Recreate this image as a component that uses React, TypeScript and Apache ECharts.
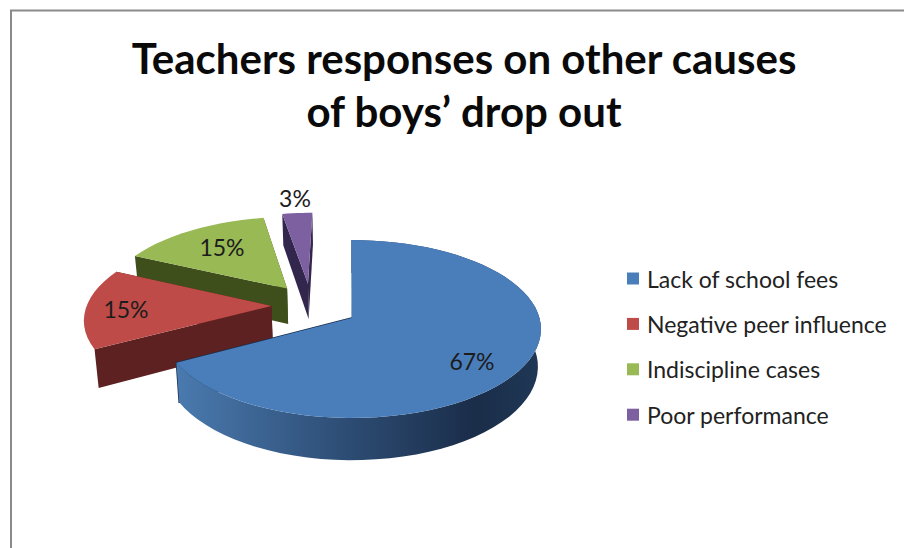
import React, { useEffect, useRef } from "react";
import * as echarts from "echarts";

const categories = ["Lack of school fees", "Negative peer influence", "Indiscipline cases", "Poor performance"];
const shares = [67, 15, 15, 3];

const TITLE = "Teachers responses on other causes\nof boys’ drop out";
const FONT = "Lato, 'Open Sans', sans-serif";

const faceColors = ["#4a7ebb", "#be4b48", "#98b954", "#7d60a0"];
const wallColors = ["#17304f", "#5c2120", "#3f4f1b", "#32264d"];
// How far each slice is pulled out, in pie radii (across, away).
const explode = [[0.008, 0], [-0.425, 0.14], [-0.349, 0.35], [-0.235, 0.41]];
// Painting order: far slices first.
const paintOrder = [3, 2, 1, 0];
const labelAt = [[472, 361], [126, 309], [222, 247], [295, 198]];

const PIE = { cx: 350, cy: 318, a: 188, b: 87.6, p: 0.1236, depth: 37, shrink: 0.984 };
const ARC_STEPS = 96;

function project(u: number, v: number, low: boolean): [number, number] {
  const s = 1 / (1 + PIE.p * v);
  const k = low ? PIE.shrink : 1;
  return [PIE.cx + PIE.a * u * s * k, PIE.cy - PIE.b * v * s + (low ? PIE.depth * s : 0)];
}

function sliceShapes(i: number) {
  const total = shares.reduce((a, b) => a + b, 0);
  const before = shares.slice(0, i).reduce((a, b) => a + b, 0);
  const t0 = (before / total) * Math.PI * 2;
  const t1 = ((before + shares[i]) / total) * Math.PI * 2;
  const [ex, ey] = explode[i];
  const arc = (low: boolean) => {
    const pts: [number, number][] = [];
    const n = Math.max(6, Math.round(ARC_STEPS * (t1 - t0) / (Math.PI * 2)));
    for (let k = 0; k <= n; k++) {
      const t = t0 + ((t1 - t0) * k) / n;
      pts.push(project(Math.sin(t) + ex, Math.cos(t) + ey, low));
    }
    return pts;
  };
  const top = arc(false);
  const bottom = arc(true);
  const apexTop = project(ex, ey, false);
  const apexLow = project(ex, ey, true);
  return {
    face: [apexTop, ...top],
    rim: [...top, ...[...bottom].reverse()],
    startWall: [apexTop, top[0], bottom[0], apexLow],
    endWall: [apexTop, top[top.length - 1], bottom[bottom.length - 1], apexLow],
  };
}

function renderSlice(i: number) {
  return () => {
    const sh = sliceShapes(i);
    const base = paintOrder.indexOf(i) * 10;
    const walls: any[] = [
      {
        type: "polygon",
        z2: base,
        shape: { points: sh.endWall },
        style: { fill: wallColors[i], stroke: i === 0 ? wallColors[i] : undefined, lineWidth: 1.5 },
      },
      { type: "polygon", z2: base + 1, shape: { points: sh.startWall }, style: { fill: wallColors[i] } },
    ];
    // Only the large slice shows its curved outer wall.
    if (i === 0) {
      walls.push({
        type: "polygon",
        z2: base + 2,
        shape: { points: sh.rim },
        style: {
          fill: new echarts.graphic.LinearGradient(0, 0, 1, 0, [
            { offset: 0, color: "#4a7aaf" },
            { offset: 0.45, color: "#2e4e76" },
            { offset: 0.82, color: "#1a2d49" },
            { offset: 1, color: "#1f3856" },
          ]),
        },
      });
    }
    return {
      type: "group",
      children: [
        ...walls,
        { type: "polygon", z2: base + 3, shape: { points: sh.face }, style: { fill: faceColors[i] } },
        {
          type: "text",
          z2: 100,
          x: labelAt[i][0],
          y: labelAt[i][1],
          style: {
            text: `${shares[i]}%`,
            fill: "#1c1c1c",
            font: `23px ${FONT}`,
            align: "center",
            verticalAlign: "middle",
          },
        },
      ],
    };
  };
}

export default function App() {
  const ref = useRef<HTMLDivElement>(null);
  useEffect(() => {
    const chart = echarts.init(ref.current!, undefined, { renderer: "svg" });
    chart.setOption({
      animation: false,
      backgroundColor: "#ffffff",
      title: {
        text: TITLE,
        left: 459,
        top: 26,
        textAlign: "center",
        textStyle: { fontFamily: FONT, fontWeight: "bold", fontSize: 42, lineHeight: 53, color: "#0a0a0a" },
      },
      legend: {
        orient: "vertical",
        left: 622,
        top: 262,
        icon: "rect",
        itemWidth: 12,
        itemHeight: 12,
        itemGap: 22.4,
        selectedMode: false,
        data: categories,
        textStyle: { fontFamily: FONT, fontSize: 23, color: "#222222", padding: [0, 0, 0, 3] },
      },
      graphic: [
        {
          type: "polyline",
          shape: { points: [[11, 548], [11, 10.5], [904, 10.5]] },
          style: { stroke: "#8a8a8a", lineWidth: 2, fill: "none" },
        },
      ],
      series: categories.map((name, i) => ({
        type: "custom",
        name,
        coordinateSystem: "none",
        itemStyle: { color: faceColors[i] },
        renderItem: renderSlice(i),
        data: [shares[i]],
      })),
    });
    return () => chart.dispose();
  }, []);
  return <div ref={ref} style={{ position: "fixed", left: 0, top: 0, width: 904, height: 548 }} />;
}
